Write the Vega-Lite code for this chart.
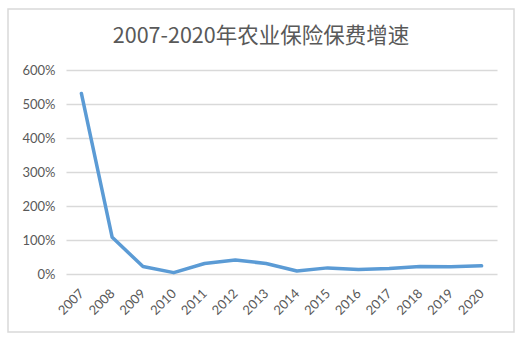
{
  "$schema": "https://vega.github.io/schema/vega-lite/v6.json",
  "width": 506,
  "height": 323,
  "autosize": {"type": "none"},
  "padding": {"left": 8, "top": 9, "right": 5, "bottom": 13},
  "background": "white",
  "title": {
    "text": "2007-2020年农业保险保费增速",
    "font": "Noto Sans CJK SC",
    "fontSize": 21.5,
    "fontWeight": "normal",
    "color": "#595959",
    "frame": "group",
    "anchor": "middle",
    "offset": -38
  },
  "config": {
    "view": {"stroke": "#d9d9d9", "strokeWidth": 1.5},
    "axis": {
      "labelFont": "Lato",
      "labelFontSize": 13,
      "labelColor": "#595959",
      "domain": false,
      "ticks": false
    }
  },
  "data": {
    "values": [
      {"year": 2007, "growth": 5.31},
      {"year": 2008, "growth": 1.08},
      {"year": 2009, "growth": 0.22},
      {"year": 2010, "growth": 0.04},
      {"year": 2011, "growth": 0.31},
      {"year": 2012, "growth": 0.41},
      {"year": 2013, "growth": 0.31},
      {"year": 2014, "growth": 0.09},
      {"year": 2015, "growth": 0.18},
      {"year": 2016, "growth": 0.13},
      {"year": 2017, "growth": 0.16},
      {"year": 2018, "growth": 0.22},
      {"year": 2019, "growth": 0.21},
      {"year": 2020, "growth": 0.24}
    ]
  },
  "mark": {"type": "line", "color": "#5B9BD5", "strokeWidth": 3.5, "strokeCap": "round", "strokeJoin": "round"},
  "encoding": {
    "x": {
      "field": "year",
      "type": "quantitative",
      "scale": {"domain": [2006.5, 2020.5], "range": [58, 489], "nice": false, "zero": false},
      "axis": {
        "title": null,
        "values": [2007, 2008, 2009, 2010, 2011, 2012, 2013, 2014, 2015, 2016, 2017, 2018, 2019, 2020],
        "format": "d",
        "grid": false,
        "offset": -58,
        "labelAngle": -45,
        "labelAlign": "right",
        "labelBaseline": "middle",
        "labelPadding": 17
      }
    },
    "y": {
      "field": "growth",
      "type": "quantitative",
      "scale": {"domain": [0, 6], "range": [265, 61], "nice": false},
      "axis": {
        "title": null,
        "values": [0, 1, 2, 3, 4, 5, 6],
        "format": ".0%",
        "grid": true,
        "gridColor": "#d9d9d9",
        "gridWidth": 1.3,
        "offset": -58,
        "labelPadding": 11
      }
    }
  }
}
